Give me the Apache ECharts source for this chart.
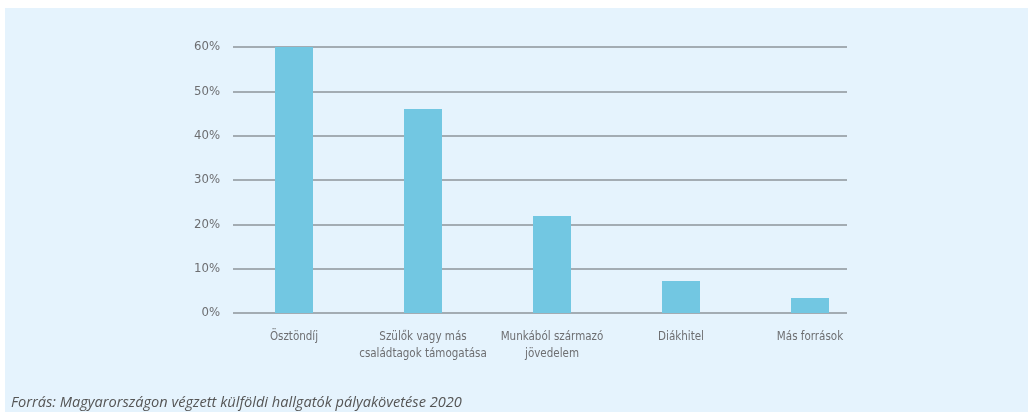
<!DOCTYPE html>
<html>
<head>
<meta charset="utf-8">
<script src="https://cdn.jsdelivr.net/npm/echarts@6/dist/echarts.min.js"></script>
<style>html,body{margin:0;padding:0;background:#fff;}#c{width:1028px;height:412px;}</style>
</head>
<body>
<div id="c"></div>
<script>
const categories = ['Ösztöndíj', 'Szülők vagy más\ncsaládtagok támogatása', 'Munkából származó\njövedelem', 'Diákhitel', 'Más források'];
const values = [60, 46, 21.9, 7.2, 3.4];
const yTicks = [0, 10, 20, 30, 40, 50, 60];
const caption = 'Forrás: Magyarországon végzett külföldi hallgatók pályakövetése 2020';

const chart = echarts.init(document.getElementById('c'));
const labelFont = '"DejaVu Sans Condensed", sans-serif';
const yMin = yTicks[0], yMax = yTicks[yTicks.length - 1];
chart.setOption({
  animation: false,
  graphic: [
    { type: 'rect', z: -10, silent: true, shape: { x: 5, y: 8, width: 1023, height: 404 }, style: { fill: '#e5f3fd' } },
    { type: 'text', left: 11, top: 395, silent: true, style: { text: caption, font: 'italic 14.6px "Open Sans", sans-serif', fill: '#555555' } }
  ],
  grid: [
    { left: 233, right: 181, top: 47, bottom: 99 },
    { left: 229.5, right: 153.5, top: 47, bottom: 99 }
  ],
  xAxis: [
    { type: 'category', gridIndex: 0, data: categories, show: false },
    {
      type: 'category', gridIndex: 1, data: categories,
      axisLine: { show: false }, axisTick: { show: false },
      axisLabel: { color: '#6d6e71', fontSize: 11.5, fontFamily: labelFont, margin: 16, lineHeight: 17, interval: 0 }
    }
  ],
  yAxis: [
    {
      type: 'value', gridIndex: 0, min: yMin, max: yMax, interval: 10,
      axisLabel: { formatter: v => v + '%', color: '#6d6e71', fontSize: 13, fontFamily: labelFont, margin: 13 },
      axisLine: { show: false }, axisTick: { show: false },
      splitLine: { lineStyle: { color: '#a3acb3', width: 2 } }
    },
    { type: 'value', gridIndex: 1, min: yMin, max: yMax, interval: 10, show: false, splitLine: { show: false } }
  ],
  series: [{
    type: 'bar', xAxisIndex: 1, yAxisIndex: 1, data: values, barWidth: 38,
    itemStyle: { color: '#72c7e2' }
  }]
});
</script>
</body>
</html>
